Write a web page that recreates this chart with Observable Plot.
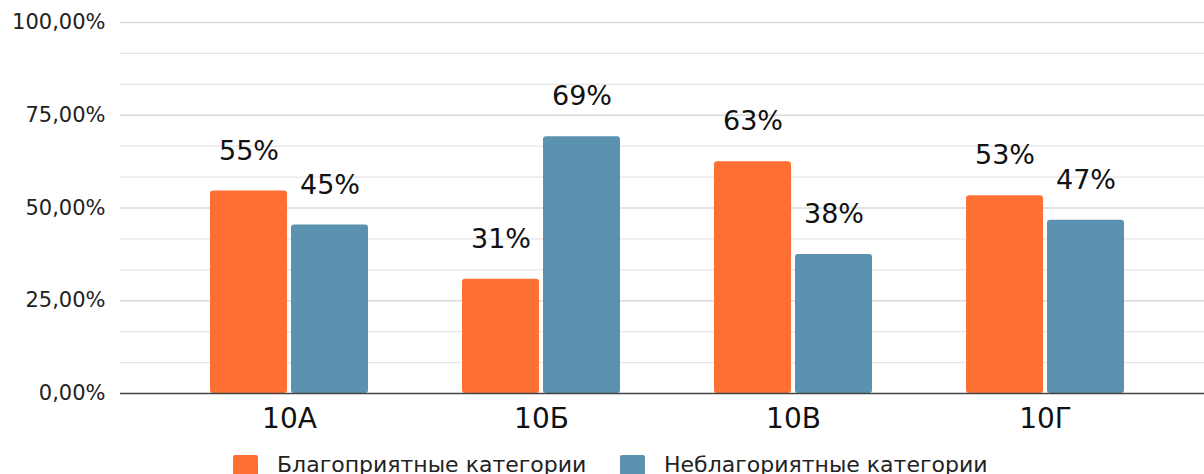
<!DOCTYPE html>
<html><head><meta charset="utf-8">
<script src="https://cdn.jsdelivr.net/npm/d3@7"></script>
<script src="https://cdn.jsdelivr.net/npm/@observablehq/plot@0.6"></script>
<style>
body{margin:0;background:#fff;font-family:"DejaVu Sans",sans-serif;overflow:hidden}
#legend{position:relative;height:28px;font-size:22px;line-height:24px;color:#222;margin-top:7px}
.sw{display:inline-block;width:25px;height:21px;border-radius:2px;margin-right:19px}
.item{display:flex;align-items:center;position:absolute;top:0}
</style></head><body>
<div id="chart"></div>
<div id="legend"></div>
<script>
const categories = ["10A","10Б","10В","10Г"];
const seriesNames = ["Благоприятные категории","Неблагориятные категории"];
const favorable = [54.55, 30.77, 62.5, 53.33];
const unfavorable = [45.45, 69.23, 37.5, 46.67];
const yTicks = [0,25,50,75,100];
const colors = ["#FE6F33","#5A92B0"];

const data = [];
categories.forEach((c,i)=>{
  data.push({cat:c, s:seriesNames[0], v:favorable[i]});
  data.push({cat:c, s:seriesNames[1], v:unfavorable[i]});
});
const minor = d3.range(1,13).map(i=>i*25/3).filter(v=>Math.abs(v%25)>1e-6 && Math.abs(v%25-25)>1e-6);
const fmtTick = d => d.toFixed(2).replace(".",",")+"%";

const chart = Plot.plot({
  width:1204, height:446,
  marginLeft:120, marginRight:0, marginTop:22, marginBottom:53,
  style:{fontFamily:"DejaVu Sans, sans-serif", background:"#fff"},
  x:{domain:categories, range:[163,1171], paddingInner:1-158/252, paddingOuter:(1-158/252)/2},
  y:{domain:[0,100]},
  marks:[
    Plot.ruleY(minor,{stroke:"#e6e6e6", strokeWidth:1.2}),
    Plot.ruleY(yTicks.filter(d=>d>0),{stroke:"#dadada", strokeWidth:1.4}),
    Plot.barY(data.filter(d=>d.s===seriesNames[0]),{x:"cat", y:"v", fill:colors[0], insetRight:81, rx:3}),
    Plot.barY(data.filter(d=>d.s===seriesNames[1]),{x:"cat", y:"v", fill:colors[1], insetLeft:81, rx:3}),
    Plot.text(data.filter(d=>d.s===seriesNames[0]),{x:"cat", y:"v", text:d=>Math.round(d.v)+"%", dx:-40.5, dy:-40, fontSize:27, fill:"#111", lineAnchor:"middle"}),
    Plot.text(data.filter(d=>d.s===seriesNames[1]),{x:"cat", y:"v", text:d=>Math.round(d.v)+"%", dx:40.5, dy:-40, fontSize:27, fill:"#111", lineAnchor:"middle"}),
    Plot.ruleY([0],{stroke:"#444", strokeWidth:1.5}),
    Plot.axisY({ticks:yTicks, tickFormat:fmtTick, tickSize:0, tickPadding:15, fontSize:21, label:null, color:"#222"}),
    Plot.axisX({tickSize:0, tickPadding:15, fontSize:28, label:null, color:"#111"})
  ]
});
document.getElementById("chart").appendChild(chart);

const lg = document.getElementById("legend");
const pos = [233, 620];
seriesNames.forEach((n,i)=>{
  const it = document.createElement("div");
  it.className="item";
  it.style.left=pos[i]+"px";
  it.innerHTML = `<span class="sw" style="background:${colors[i]}"></span><span>${n}</span>`;
  lg.appendChild(it);
});
</script>
</body></html>
